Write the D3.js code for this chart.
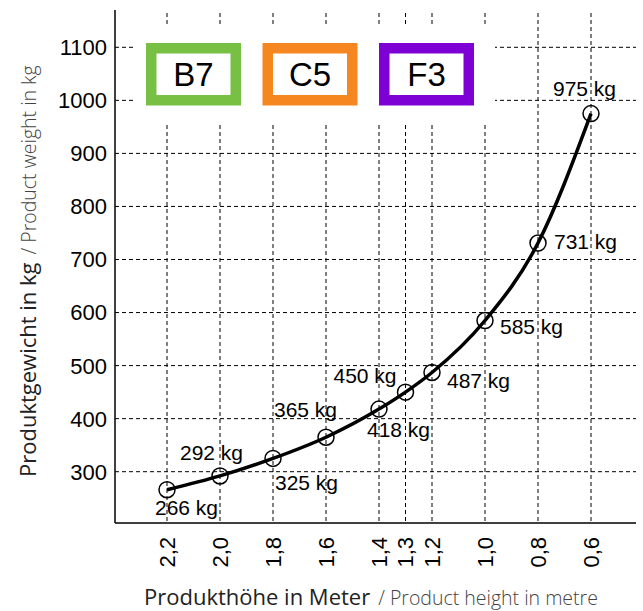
<!DOCTYPE html>
<html>
<head>
<meta charset="utf-8">
<script src="https://cdn.jsdelivr.net/npm/d3@7"></script>
<style>
  body { margin: 0; background: #fff; }
</style>
</head>
<body>
<div id="chart"></div>
<script>
// data
var heights = [2.2, 2.0, 1.8, 1.6, 1.4, 1.3, 1.2, 1.0, 0.8, 0.6];
var weights = [266, 292, 325, 365, 418, 450, 487, 585, 731, 975];
var yTicks = [300, 400, 500, 600, 700, 800, 900, 1000, 1100];
var boxLabels = ["B7", "C5", "F3"];
var boxColors = ["#78c043", "#f68720", "#7f00d4"];

// label offsets (layout only)
var labelDx = [-12, -40, 2, -52, -12, -72, 15, 15, 16, -38];
var labelDy = [25, -16, 32, -20, 28, -9, 16, 13, 6, -18];

var width = 643, height = 611;
var plotLeft = 115, plotRight = 636, plotTop = 10, plotBottom = 523;

var svg = d3.select("#chart")
  .append("svg")
    .attr("width", width)
    .attr("height", height)

var x = d3.scaleLinear()
  .domain([2.2, 0.6])
  .range([167, 591])

var y = d3.scaleLinear()
  .domain([300, 1100])
  .range([471.7, 47.3])

// horizontal grid
svg.append("g")
  .selectAll("line")
  .data(yTicks)
  .enter()
  .append("line")
    .attr("x1", plotLeft)
    .attr("x2", plotRight)
    .attr("y1", d => y(d))
    .attr("y2", d => y(d))
    .attr("stroke", "#000")
    .attr("stroke-width", 1)
    .attr("stroke-dasharray", "4,3")

// vertical grid
svg.append("g")
  .selectAll("line")
  .data(heights)
  .enter()
  .append("line")
    .attr("x1", d => x(d))
    .attr("x2", d => x(d))
    .attr("y1", plotTop + 3)
    .attr("y2", plotBottom)
    .attr("stroke", "#000")
    .attr("stroke-width", 1)
    .attr("stroke-dasharray", "4,3")

// white area behind the boxes
svg.append("rect")
  .attr("x", 133)
  .attr("y", 25)
  .attr("width", 362)
  .attr("height", 98)
  .style("fill", "#fff")

// boxes
var boxes = svg.append("g")
  .selectAll("g")
  .data(boxLabels)
  .enter()
  .append("g")
    .attr("transform", (d, i) => "translate(" + (146 + i * 116.5) + ",43)")

boxes.append("rect")
  .attr("x", 5.25)
  .attr("y", 5.25)
  .attr("width", 84.5)
  .attr("height", 52)
  .attr("fill", "#fff")
  .attr("stroke", (d, i) => boxColors[i])
  .attr("stroke-width", 10.5)

boxes.append("text")
  .attr("x", 47.5)
  .attr("y", 31.5)
  .attr("dy", "0.36em")
  .attr("text-anchor", "middle")
  .style("font-family", "'Liberation Sans', Arial, sans-serif")
  .style("font-size", "33px")
  .text(d => d)

// axes lines
svg.append("line")
  .attr("x1", plotLeft).attr("x2", plotLeft)
  .attr("y1", plotTop).attr("y2", plotBottom)
  .attr("stroke", "#000").attr("stroke-width", 1.5)
svg.append("line")
  .attr("x1", plotLeft).attr("x2", plotRight)
  .attr("y1", plotBottom).attr("y2", plotBottom)
  .attr("stroke", "#000").attr("stroke-width", 1.5)

// y tick labels
svg.append("g")
  .selectAll("text")
  .data(yTicks)
  .enter()
  .append("text")
    .attr("x", plotLeft - 8)
    .attr("y", d => y(d))
    .attr("dy", "0.36em")
    .attr("text-anchor", "end")
    .style("font-family", "'Liberation Sans', Arial, sans-serif")
    .style("font-size", "22px")
    .text(d => d)

// x tick labels (rotated)
svg.append("g")
  .selectAll("text")
  .data(heights)
  .enter()
  .append("text")
    .attr("transform", d => "translate(" + x(d) + "," + (plotBottom + 14) + ") rotate(-90)")
    .attr("dy", "0.36em")
    .attr("text-anchor", "end")
    .style("font-family", "'Liberation Sans', Arial, sans-serif")
    .style("font-size", "22px")
    .text(d => d.toFixed(1).replace(".", ","))

// curve
var points = heights.map((h, i) => [x(h), y(weights[i])])
svg.append("path")
  .attr("d", d3.line().curve(d3.curveMonotoneX)(points))
  .attr("fill", "none")
  .attr("stroke", "#000")
  .attr("stroke-width", 3.5)

// dots
svg.append("g")
  .selectAll("circle")
  .data(points)
  .enter()
  .append("circle")
    .attr("cx", d => d[0])
    .attr("cy", d => d[1])
    .attr("r", 8)
    .attr("fill", "none")
    .attr("stroke", "#000")
    .attr("stroke-width", 1.5)

// value labels
svg.append("g")
  .selectAll("text")
  .data(weights)
  .enter()
  .append("text")
    .attr("x", (d, i) => points[i][0] + labelDx[i])
    .attr("y", (d, i) => points[i][1] + labelDy[i])
    .style("font-family", "'Liberation Sans', Arial, sans-serif")
    .style("font-size", "21px")
    .text(d => d + " kg")

// X axis title
var xt = svg.append("text")
  .attr("x", 144)
  .attr("y", 605)
  .style("font-family", "'Open Sans', sans-serif")
xt.append("tspan")
  .style("font-size", "22px")
  .style("fill", "#222")
  .text("Produkthöhe in Meter")
xt.append("tspan")
  .style("font-size", "19.5px")
  .style("fill", "#444")
  .style("font-weight", 300)
  .attr("dx", 8)
  .text("/  Product height in metre")

// Y axis title
var yt = svg.append("text")
  .attr("transform", "translate(36,477) rotate(-90)")
  .style("font-family", "'Open Sans', sans-serif")
yt.append("tspan")
  .style("font-size", "22px")
  .style("fill", "#222")
  .text("Produktgewicht in kg")
yt.append("tspan")
  .style("font-size", "19.5px")
  .style("fill", "#444")
  .style("font-weight", 300)
  .attr("dx", 8)
  .text("/  Product weight in kg")
</script>
</body>
</html>
